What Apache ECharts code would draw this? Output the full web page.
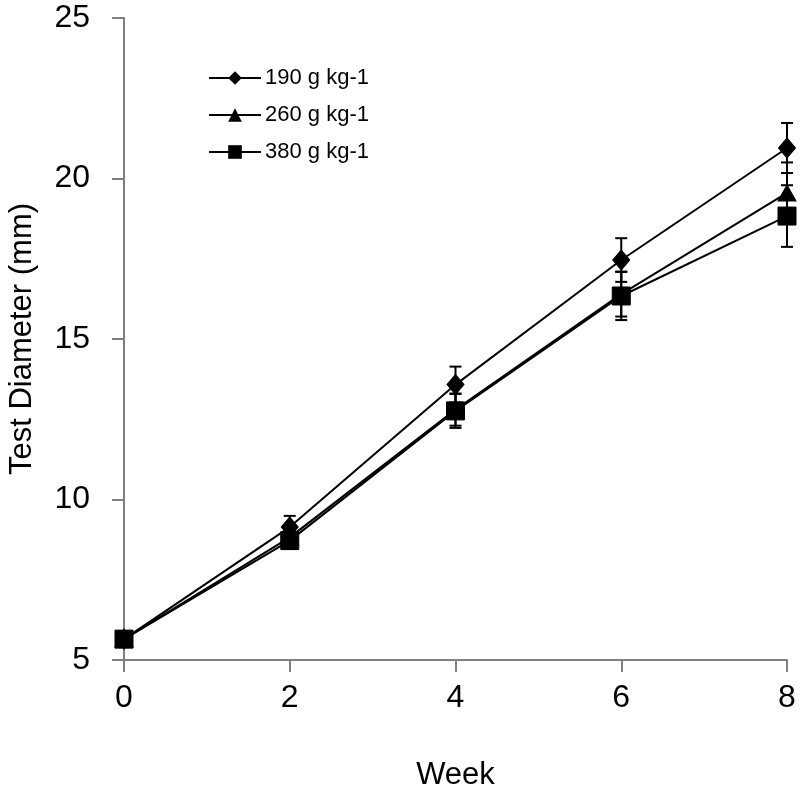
<!DOCTYPE html>
<html>
<head>
<meta charset="utf-8">
<script src="https://cdn.jsdelivr.net/npm/echarts@6/dist/echarts.min.js"></script>
<style>
html, body { margin: 0; padding: 0; background: #fff; }
#chart { width: 800px; height: 793px; }
</style>
</head>
<body>
<div id="chart"></div>
<script>
var weeks = [0, 2, 4, 6, 8];
var names = ['190 g kg-1', '260 g kg-1', '380 g kg-1'];
var diam190 = [5.65, 9.14, 13.58, 17.46, 20.95];
var diam260 = [5.65, 8.82, 12.80, 16.40, 19.55];
var diam380 = [5.65, 8.72, 12.76, 16.34, 18.83];
var err190 = [0.05, 0.35, 0.56, 0.68, 0.78];
var err260 = [0.05, 0.30, 0.50, 0.70, 0.95];
var err380 = [0.05, 0.25, 0.53, 0.75, 0.96];
var yTicks = [5, 10, 15, 20, 25];

var font = 'Liberation Sans, Arial, sans-serif';

function pairs(vals) {
	return weeks.map(function(w, i) { return [w, vals[i]]; });
}

function errData(vals, errs) {
	return weeks.map(function(w, i) { return [w, vals[i] - errs[i], vals[i] + errs[i]]; });
}

function errSeries(vals, errs) {
	return {
		type: 'custom',
		silent: true,
		z: 1,
		data: errData(vals, errs),
		renderItem: function(params, api) {
			var lo = api.coord([api.value(0), api.value(1)]);
			var hi = api.coord([api.value(0), api.value(2)]);
			var w = 6;
			var st = { stroke: '#000', lineWidth: 2 };
			return {
				type: 'group',
				children: [
					{ type: 'line', shape: { x1: lo[0], y1: lo[1], x2: hi[0], y2: hi[1] }, style: st },
					{ type: 'line', shape: { x1: lo[0] - w, y1: lo[1], x2: lo[0] + w, y2: lo[1] }, style: st },
					{ type: 'line', shape: { x1: hi[0] - w, y1: hi[1], x2: hi[0] + w, y2: hi[1] }, style: st }
				]
			};
		}
	};
}

function lineSeries(name, vals, symbol, size) {
	return {
		name: name,
		type: 'line',
		z: 3,
		data: pairs(vals),
		symbol: symbol,
		symbolSize: size,
		showAllSymbol: true,
		itemStyle: { color: '#000', borderColor: '#000' },
		lineStyle: { color: '#000', width: 2 }
	};
}

var option = {
	animation: false,
	backgroundColor: '#fff',
	textStyle: { fontFamily: font },
	grid: { left: 124, right: 13, top: 18, bottom: 133, containLabel: false, outerBoundsMode: 'none' },
	legend: {
		orient: 'vertical',
		left: 203,
		top: 62,
		itemGap: 15,
		itemWidth: 52,
		itemHeight: 17,
		data: names,
		textStyle: { fontSize: 22, color: '#000', fontFamily: font, padding: [0, 0, 0, -1] }
	},
	xAxis: {
		type: 'value',
		min: 0,
		max: 8,
		interval: 2,
		name: 'Week',
		nameLocation: 'middle',
		nameGap: 100,
		nameTextStyle: { fontSize: 31, color: '#000', fontFamily: font },
		splitLine: { show: false },
		axisLine: { show: true, lineStyle: { color: '#808080', width: 2 } },
		axisTick: { show: true, inside: false, length: 12, lineStyle: { color: '#808080', width: 2 } },
		axisLabel: { fontSize: 32, color: '#000', margin: 22, fontFamily: font }
	},
	yAxis: {
		type: 'value',
		min: yTicks[0],
		max: yTicks[yTicks.length - 1],
		interval: 5,
		name: 'Test Diameter (mm)',
		nameLocation: 'middle',
		nameGap: 86,
		nameTextStyle: { fontSize: 31, color: '#000', fontFamily: font },
		splitLine: { show: false },
		axisLine: { show: true, lineStyle: { color: '#808080', width: 2 } },
		axisTick: { show: true, inside: false, length: 12, lineStyle: { color: '#808080', width: 2 } },
		axisLabel: { fontSize: 32, color: '#000', margin: 34, fontFamily: font }
	},
	series: [
		errSeries(diam190, err190),
		errSeries(diam260, err260),
		errSeries(diam380, err380),
		lineSeries(names[0], diam190, 'diamond', [17, 20]),
		lineSeries(names[1], diam260, 'triangle', [18, 16]),
		lineSeries(names[2], diam380, 'rect', 18)
	]
};

var chart = echarts.init(document.getElementById('chart'));
chart.setOption(option);
</script>
</body>
</html>
